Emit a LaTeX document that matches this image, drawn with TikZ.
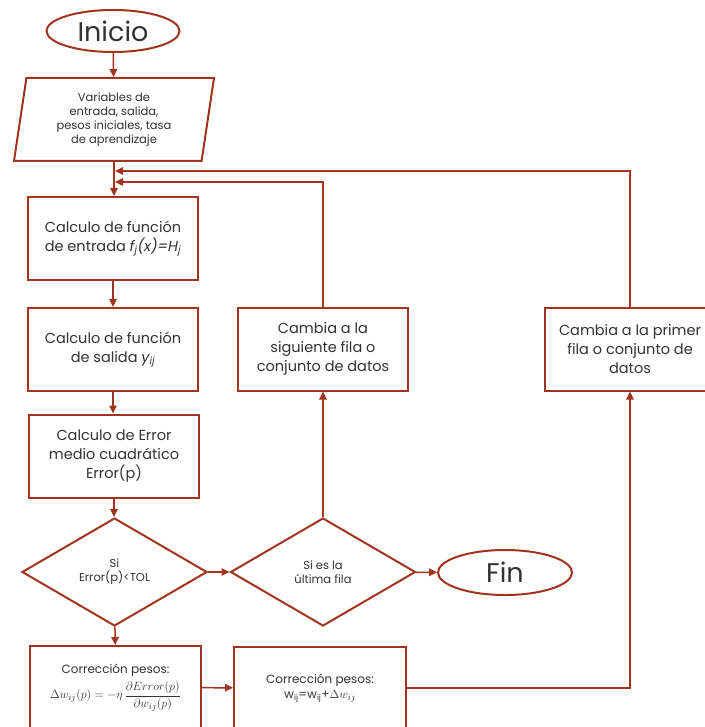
\documentclass[tikz,border=0pt]{standalone}
\usepackage{fontspec}
\setmainfont{Poppins}
\usetikzlibrary{shapes.geometric,arrows.meta}
\definecolor{brd}{RGB}{160,52,30}
\definecolor{txt}{RGB}{50,50,50}
\begin{document}
\begin{tikzpicture}[x=1pt,y=-1pt,
  every node/.style={text=txt,font=\fontsize{14.5}{19}\selectfont,align=center},
  box/.style={draw=brd,line width=2pt,rectangle,minimum width=170pt,minimum height=83pt,inner sep=0pt},
  dia/.style={draw=brd,line width=2pt,diamond,minimum width=185pt,minimum height=108pt,inner sep=0pt,font=\fontsize{11.5}{14}\selectfont},
  term/.style={draw=brd,line width=2pt,ellipse,minimum width=133pt,minimum height=42pt,inner sep=0pt,font=\fontsize{27}{30}\selectfont},
  arr/.style={draw=brd,line width=1.5pt,-{Triangle[length=8pt,width=7.5pt]}},
  ln/.style={draw=brd,line width=1.5pt}]
\useasboundingbox (0,0) rectangle (704,727);
\node[term] (inicio) at (113,31) {Inicio};
\node[draw=brd,line width=2pt,trapezium,trapezium left angle=77,trapezium right angle=103,
  trapezium stretches body,minimum width=200pt,minimum height=83pt,inner sep=0pt,
  font=\fontsize{11.5}{14}\selectfont] (vars) at (114,119.5)
  {Variables de\\entrada, salida,\\pesos iniciales, tasa\\de aprendizaje};
\node[box] (b1) at (113,238.5) {Calculo de función\\de entrada \textit{f\textsubscript{j}(x)=H\textsubscript{j}}};
\node[box] (b2) at (113,349.5) {Calculo de función\\de salida \textit{y\textsubscript{ij}}};
\node[box] (b3) at (114,456) {Calculo de Error\\medio cuadrático\\Error(p)};
\node[dia] (d1) at (114.5,572) {Si\\Error(p)<TOL};
\node[dia] (d2) at (323,572) {Si es la\\última fila};
\node[term,minimum width=134pt,minimum height=45pt] (fin) at (505,572.5) {Fin};
\node[box] (sig) at (323,349) {Cambia a la\\siguiente fila o\\conjunto de datos};
\node[box] (prim) at (630,349) {Cambia a la primer\\fila o conjunto de\\datos};
\node[box,minimum width=171pt,font=\fontsize{12}{15}\selectfont] (c1) at (115.5,687.5)
  {Corrección pesos:\\[4pt]{\fontsize{12.5}{15}\selectfont$\Delta w_{ij}(p)=-\eta\,{\displaystyle\frac{\partial Error(p)}{\partial w_{ij}(p)}}$}};
\node[box,minimum width=172pt,font=\fontsize{12}{15}\selectfont] (c2) at (320,688)
  {Corrección pesos:\\w\textsubscript{ij}=w\textsubscript{ij}+{\fontsize{13}{15}\selectfont$\Delta w_{ij}$}};
\coordinate (j1) at (115,171);
\coordinate (j2) at (115,182);
\draw[arr] (inicio) -- (vars);
\draw[arr] (vars.south) -- (b1.north-|vars.south);
\draw[arr] (b1) -- (b2);
\draw[arr] (b2.south) -- (b3.north-|b2.south);
\draw[arr] (b3.south) -- (d1.north-|b3.south);
\draw[arr] (d1) -- (d2);
\draw[arr] (d2) -- (fin);
\draw[arr] (d2) -- (sig);
\draw[arr] (sig.north) |- (j2);
\draw[arr] (prim.north) |- (j1);
\draw[arr] (d1) -- (c1);
\draw[arr] (c1) -- (c2);
\draw[arr] (c2.east) -| (prim.south);
\end{tikzpicture}
\end{document}
